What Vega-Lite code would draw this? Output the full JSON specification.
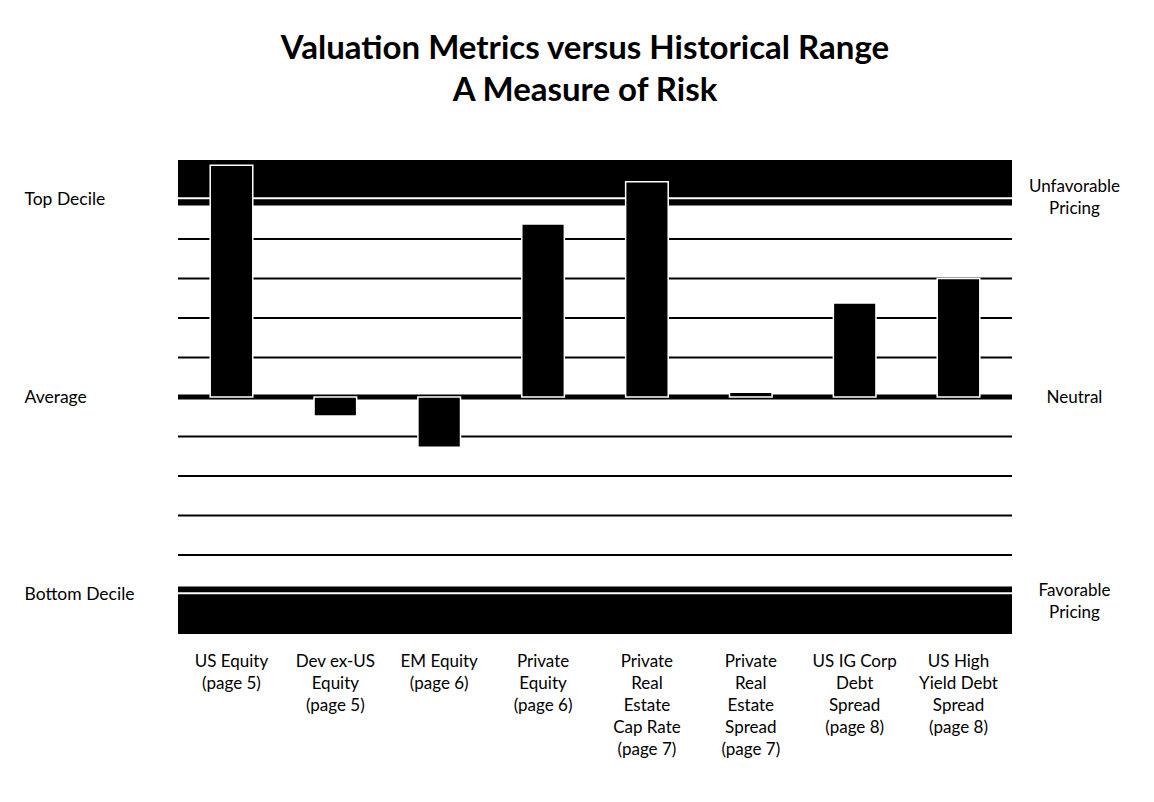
{
  "$schema": "https://vega.github.io/schema/vega-lite/v6.json",
  "width": 834,
  "height": 474,
  "autosize": {"type": "none"},
  "padding": {"left": 178, "top": 160, "right": 142, "bottom": 168},
  "background": "white",
  "config": {"view": {"stroke": null}, "font": "Lato"},
  "title": {
    "text": ["Valuation Metrics versus Historical Range", "A Measure of Risk"],
    "font": "Lato",
    "fontSize": 33,
    "fontWeight": "bold",
    "color": "black",
    "lineHeight": 42,
    "anchor": "middle",
    "dx": -10,
    "offset": 52
  },
  "datasets": {
    "metrics": [
      {"asset": "US Equity\n(page 5)", "value": 5.87},
      {"asset": "Dev ex-US\nEquity\n(page 5)", "value": -0.48},
      {"asset": "EM Equity\n(page 6)", "value": -1.27},
      {"asset": "Private\nEquity\n(page 6)", "value": 4.38},
      {"asset": "Private\nReal\nEstate\nCap Rate\n(page 7)", "value": 5.45},
      {"asset": "Private\nReal\nEstate\nSpread\n(page 7)", "value": 0.12},
      {"asset": "US IG Corp\nDebt\nSpread\n(page 8)", "value": 2.38},
      {"asset": "US High\nYield Debt\nSpread\n(page 8)", "value": 3.0}
    ],
    "bands": [
      {"band": "Top decile", "lower": 4.85, "upper": 6},
      {"band": "Bottom decile", "lower": -6, "upper": -4.8}
    ],
    "grid": [
      {"level": -4}, {"level": -3}, {"level": -2}, {"level": -1},
      {"level": 1}, {"level": 2}, {"level": 3}, {"level": 4}
    ],
    "average": [{"level": 0}],
    "bandEdges": [{"level": 5.03}, {"level": -4.97}]
  },
  "layer": [
    {
      "data": {"name": "bands"},
      "mark": {"type": "rect", "color": "black"},
      "encoding": {
        "y": {
          "field": "upper",
          "type": "quantitative",
          "scale": {"domain": [-6, 6], "nice": false, "zero": false},
          "axis": {
            "orient": "right",
            "values": [5.32, 0, -4.91],
            "labelExpr": "datum.value > 1 ? ['Unfavorable', 'Pricing'] : datum.value == 0 ? 'Neutral' : ['Favorable', 'Pricing']",
            "labelAlign": "center",
            "labelBaseline": "middle",
            "labelPadding": 62,
            "labelLineHeight": 22,
            "labelFontSize": 17,
            "labelColor": "black",
            "labelFont": "Lato",
            "tickSize": 0,
            "ticks": false,
            "domain": false,
            "grid": false,
            "title": null
          }
        },
        "y2": {"field": "lower"}
      }
    },
    {
      "data": {"name": "grid"},
      "mark": {"type": "rule", "color": "black", "strokeWidth": 2},
      "encoding": {"y": {"field": "level", "type": "quantitative", "axis": null}}
    },
    {
      "data": {"name": "average"},
      "mark": {"type": "rule", "color": "black", "strokeWidth": 5},
      "encoding": {"y": {"field": "level", "type": "quantitative", "axis": null}}
    },
    {
      "data": {"name": "bandEdges"},
      "mark": {"type": "rule", "color": "white", "strokeWidth": 2},
      "encoding": {"y": {"field": "level", "type": "quantitative", "axis": null}}
    },
    {
      "data": {"name": "metrics"},
      "mark": {"type": "bar", "color": "black", "stroke": "white", "strokeWidth": 1.5},
      "encoding": {
        "x": {
          "field": "asset",
          "type": "nominal",
          "sort": null,
          "scale": {"paddingInner": 0.59, "paddingOuter": 0.31},
          "axis": {
            "title": null,
            "labelAngle": 0,
            "labelExpr": "split(datum.label, '\\n')",
            "labelFontSize": 17,
            "labelLineHeight": 22,
            "labelColor": "black",
            "labelFont": "Lato",
            "labelBaseline": "top",
            "labelPadding": 19,
            "tickSize": 0,
            "ticks": false,
            "domain": false,
            "labelLimit": 200
          }
        },
        "y": {
          "field": "value",
          "type": "quantitative",
          "axis": {
            "orient": "left",
            "values": [5, 0, -5],
            "labelExpr": "datum.value == 5 ? 'Top Decile' : datum.value == 0 ? 'Average' : 'Bottom Decile'",
            "labelAlign": "left",
            "labelBaseline": "middle",
            "labelPadding": 154,
            "labelFontSize": 17.5,
            "labelColor": "black",
            "labelFont": "Lato",
            "tickSize": 0,
            "ticks": false,
            "domain": false,
            "grid": false,
            "title": null
          }
        },
        "y2": {"datum": 0}
      }
    }
  ],
  "resolve": {"axis": {"y": "independent"}}
}
